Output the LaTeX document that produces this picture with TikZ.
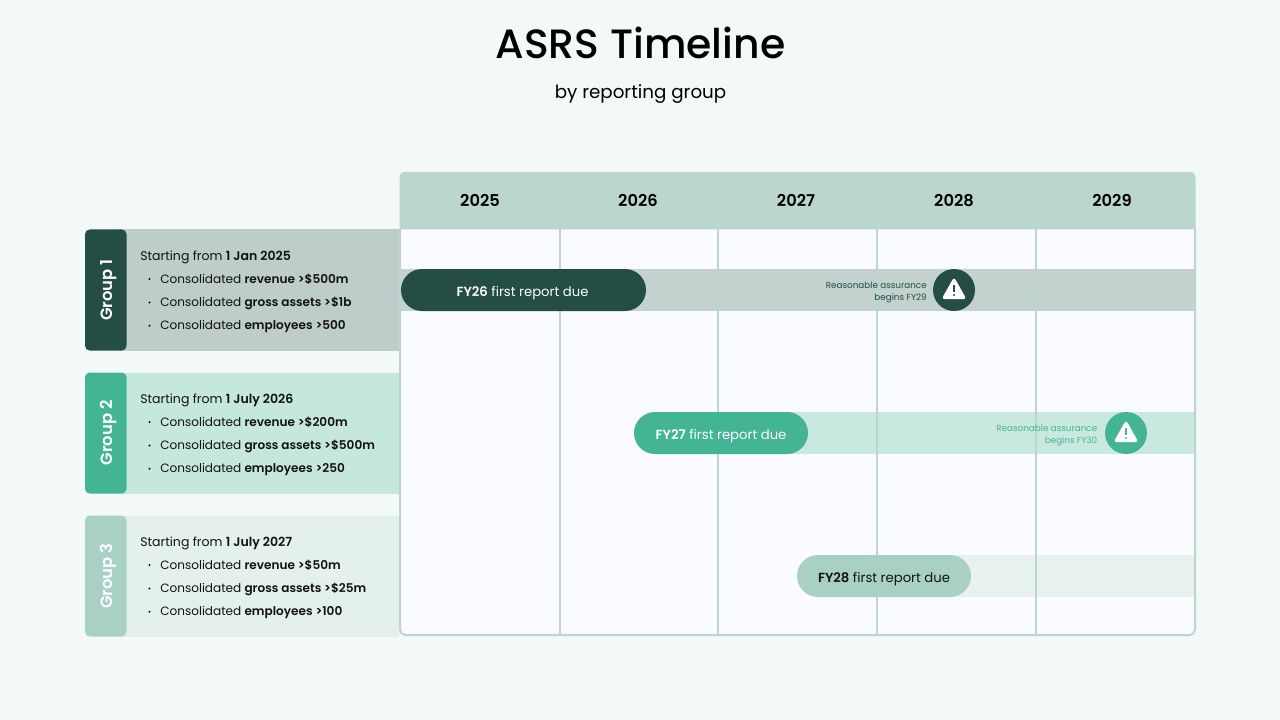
\documentclass[tikz,border=0pt]{standalone}
\usepackage{fontspec}
\setmainfont{Poppins}[BoldFont={Poppins SemiBold}]
\newfontfamily\pmed{Poppins Medium}
\usetikzlibrary{calc}
\definecolor{bgc}{HTML}{F3F9F8}
\definecolor{bodyc}{HTML}{F9FBFF}
\definecolor{linec}{HTML}{BBD6CE}
\definecolor{dark}{HTML}{234D45}
\definecolor{mid}{HTML}{43B595}
\definecolor{pale}{HTML}{A9D0C5}
\definecolor{panA}{HTML}{BECDC9}
\definecolor{panB}{HTML}{C5E7DE}
\definecolor{panC}{HTML}{E3F0EC}
\definecolor{barA}{HTML}{C3D1CF}
\definecolor{barB}{HTML}{C9E8E0}
\definecolor{barC}{HTML}{E7F1EE}
\definecolor{ink}{HTML}{111111}
\newcommand{\fs}[1]{\fontsize{#1}{#1}\selectfont}
\tikzset{
 x=0.75pt,y=-0.75pt,
 txt/.style={inner sep=0pt,text=ink,anchor=base west},
 yr/.style={inner sep=0pt,text=black,anchor=base,font=\fs{12.2}\bfseries},
 pilltxt/.style={inner sep=0pt,anchor=base,font=\fs{9.9}},
 ratxt/.style={inner sep=0pt,anchor=base east,font=\fs{6.6},align=right},
 tabtxt/.style={inner sep=0pt,text=white,rotate=90,anchor=base,font=\fs{12.3}\bfseries},
 vline/.style={draw=linec,line width=1.5pt},
}
\newcommand{\warn}[3]{%
 \node[circle,fill=#3,minimum size=31.5pt,inner sep=0pt] (#1) at #2 {};
 \fill[white,rounded corners=2.4pt] ($(#1)+(0,-13)$) -- ($(#1)+(12.5,9.2)$) -- ($(#1)+(-12.5,9.2)$) -- cycle;
 \fill[#3] ($(#1)+(-0.9,-5)$) rectangle ($(#1)+(0.9,2.4)$);
 \fill[#3] ($(#1)+(0,5)$) circle (0.8pt);
}
\newcommand{\grp}[8]{% y, tabcolour, pancolour, label, start, rev, gross, emp
 \fill[#3] (120,#1) rectangle (399,#1+121);
 \fill[#2,rounded corners=3.5pt] (85,#1) rectangle (126.5,#1+121);
 \node[tabtxt] at (112,#1+60.5) {#4};
 \node[txt,font=\fs{9.4}] at (140,#1+30.5) {Starting from \textbf{#5}};
 \node[txt,font=\fs{9.05}] at (160,#1+53.8) {Consolidated \textbf{#6}};
 \node[txt,font=\fs{9.05}] at (160,#1+77.1) {Consolidated \textbf{#7}};
 \node[txt,font=\fs{9.05}] at (160,#1+100.3) {Consolidated \textbf{#8}};
 \fill[ink] (149.5,#1+49.5) circle (0.8pt);
 \fill[ink] (149.5,#1+73) circle (0.8pt);
 \fill[ink] (149.5,#1+96.3) circle (0.8pt);
}
\begin{document}
\begin{tikzpicture}
\useasboundingbox (0,0) rectangle (1280,720);
\fill[bgc] (0,0) rectangle (1280,720);
\node[inner sep=0pt,anchor=base,text=black,font=\fs{30.7}\pmed] (title) at (640.5,58.5) {ASRS Timeline};
\node[inner sep=0pt,anchor=base,text=black,font=\fs{13.7}] (subtitle) at (640.5,98.5) {by reporting group};
% body
\fill[bodyc] (400,229) rectangle (1195,635);
\fill[barA] (400,269) rectangle (1195,311);
\fill[barB] (720,412) rectangle (1195,454);
\fill[barC] (880,555) rectangle (1195,597);
\foreach \x in {560,718,877,1036} \draw[vline] (\x,229) -- (\x,635);
\draw[vline,rounded corners=4pt] (400,229) -- (400,635) -- (1195,635) -- (1195,229);
\fill[linec] (399.5,229.5) -- (399.5,178) .. controls (399.5,174) and (401.5,172) .. (405.5,172) -- (1189.5,172) .. controls (1193.5,172) and (1195.5,174) .. (1195.5,178) -- (1195.5,229.5) -- cycle;
% years
\node[yr] (y25) at (480,207) {2025};
\node[yr] (y26) at (638,207) {2026};
\node[yr] (y27) at (796,207) {2027};
\node[yr] (y28) at (954,207) {2028};
\node[yr] (y29) at (1112,207) {2029};
% groups
\grp{229.5}{dark}{panA}{Group 1}{1 Jan 2025}{revenue >\$500m}{gross assets >\$1b}{employees >500}
\grp{372.5}{mid}{panB}{Group 2}{1 July 2026}{revenue >\$200m}{gross assets >\$500m}{employees >250}
\grp{515.5}{pale}{panC}{Group 3}{1 July 2027}{revenue >\$50m}{gross assets >\$25m}{employees >100}
% pills
\fill[dark,rounded corners=15.75pt] (401,269) rectangle (646,311);
\node[pilltxt,text=white] (p1) at (522.5,296) {\textbf{FY26} first report due};
\fill[mid,rounded corners=15.75pt] (634,412) rectangle (808,454);
\node[pilltxt,text=white] (p2) at (721,439) {\textbf{FY27} first report due};
\fill[pale,rounded corners=15.75pt] (797,555) rectangle (971,597);
\node[pilltxt,text=ink] (p3) at (884,582) {\textbf{FY28} first report due};
% assurance
\node[ratxt,text=dark] (ra1) at (927,288) {Reasonable assurance};
\node[ratxt,text=dark] (ra1b) at (927,300) {begins FY29};
\warn{w1}{(954,290)}{dark}
\node[ratxt,text=mid] (ra2) at (1097.5,431) {Reasonable assurance};
\node[ratxt,text=mid] (ra2b) at (1097.5,443) {begins FY30};
\warn{w2}{(1126,433)}{mid}
\end{tikzpicture}
\end{document}
